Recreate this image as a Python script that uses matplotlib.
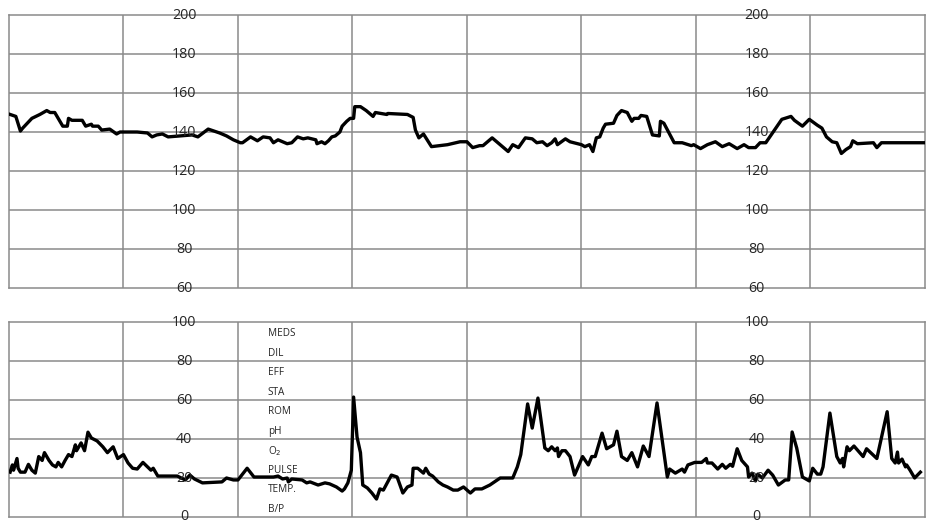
import numpy as np
import matplotlib
matplotlib.use("Agg")
import matplotlib.pyplot as plt

plt.rcParams['font.family'] = ['Open Sans', 'DejaVu Sans']

# fetal heart rate trace (minutes, bpm)
fhr_t = [0.01, 0.06, 0.10, 0.12, 0.20, 0.27, 0.33, 0.36, 0.40, 0.42, 0.47, 0.51, 0.52, 0.55,
         0.64, 0.67, 0.72, 0.73, 0.78, 0.81, 0.88, 0.94, 0.97, 1.12, 1.21, 1.25, 1.29, 1.34,
         1.39, 1.49, 1.60, 1.65, 1.74, 1.84, 1.90, 1.96, 2.02, 2.04, 2.11, 2.17, 2.22, 2.28,
         2.31, 2.35, 2.43, 2.47, 2.52, 2.57, 2.61, 2.68, 2.69, 2.73, 2.76, 2.79, 2.82, 2.85,
         2.89, 2.91, 2.95, 2.98, 3.01, 3.02, 3.07, 3.12, 3.18, 3.20, 3.30, 3.31, 3.48, 3.53,
         3.55, 3.58, 3.62, 3.69, 3.83, 3.94, 4.00, 4.05, 4.11, 4.14, 4.22, 4.29, 4.36, 4.40,
         4.45, 4.51, 4.57, 4.61, 4.66, 4.70, 4.74, 4.77, 4.79, 4.86, 4.90, 5.00, 5.03, 5.07,
         5.10, 5.13, 5.16, 5.19, 5.21, 5.28, 5.31, 5.35, 5.40, 5.44, 5.46, 5.50, 5.52, 5.57,
         5.62, 5.68, 5.69, 5.72, 5.81, 5.88, 5.96, 5.98, 6.04, 6.10, 6.17, 6.23, 6.29, 6.36,
         6.42, 6.46, 6.52, 6.56, 6.61, 6.75, 6.83, 6.86, 6.93, 6.99, 7.06, 7.10, 7.14, 7.19,
         7.23, 7.27, 7.31, 7.35, 7.37, 7.41, 7.55, 7.58, 7.62, 7.99]
fhr_v = [149, 148, 140.5, 142, 147, 149, 151, 150, 150, 148, 143, 143, 147, 146,
         146, 143, 144, 143, 143, 141, 141.5, 139, 140, 140, 139.5, 137.5, 138.5, 139,
         137.5, 138, 138.5, 137.5, 141.5, 139.5, 138, 136, 134.5, 134.5, 137.5, 135.5, 137.5, 137,
         134.5, 136, 134, 134.5, 137.5, 136.5, 137, 136, 134, 135, 134, 135.5, 137.5, 138,
         140, 143, 145.5, 147, 147, 153, 153, 151, 148, 150, 149, 149.5, 149, 147.5,
         141, 137, 139, 132.5, 133.5, 135, 135, 132, 133, 133, 137, 133.5, 130, 133.5,
         132, 137, 136.5, 134.5, 135, 133, 134.5, 136.5, 133.5, 136.5, 135, 133.5, 132.5, 133.5,
         130, 137, 137.5, 142, 144, 144.5, 148.5, 151, 150, 145.5, 147, 147, 148.5, 148,
         138.5, 138, 145.5, 144.5, 134.5, 134.5, 133, 133.5, 131.5, 133.5, 135, 132.5, 134, 131.5,
         133.5, 132, 132, 134.5, 134.5, 146.5, 148, 146, 143, 146.5, 143.5, 142, 137.5, 135,
         134.5, 129, 131, 132.5, 135.5, 134, 134.5, 132, 134.5, 134.5]

# uterine activity trace (minutes, mmHg)
ua_t = [0.01, 0.03, 0.04, 0.07, 0.08, 0.10, 0.14, 0.17, 0.20, 0.23, 0.26, 0.29, 0.31, 0.35,
        0.38, 0.41, 0.43, 0.46, 0.49, 0.52, 0.55, 0.58, 0.59, 0.63, 0.66, 0.69, 0.72, 0.77,
        0.82, 0.86, 0.91, 0.95, 1.00, 1.04, 1.08, 1.12, 1.17, 1.21, 1.24, 1.26, 1.30, 1.47,
        1.54, 1.58, 1.62, 1.69, 1.86, 1.90, 1.96, 2.00, 2.08, 2.14, 2.31, 2.35, 2.39, 2.43,
        2.44, 2.47, 2.56, 2.60, 2.63, 2.70, 2.76, 2.80, 2.86, 2.91, 2.93, 2.96, 2.99, 3.01,
        3.04, 3.07, 3.09, 3.13, 3.17, 3.21, 3.24, 3.27, 3.34, 3.39, 3.44, 3.48, 3.52, 3.53,
        3.57, 3.62, 3.64, 3.67, 3.70, 3.75, 3.79, 3.83, 3.88, 3.92, 3.97, 4.03, 4.07, 4.13,
        4.20, 4.29, 4.40, 4.44, 4.47, 4.53, 4.57, 4.62, 4.68, 4.71, 4.74, 4.77, 4.79, 4.80,
        4.83, 4.86, 4.90, 4.94, 5.01, 5.06, 5.09, 5.12, 5.18, 5.22, 5.28, 5.31, 5.35, 5.40,
        5.44, 5.49, 5.54, 5.59, 5.66, 5.75, 5.77, 5.82, 5.88, 5.90, 5.93, 5.99, 6.05, 6.09,
        6.10, 6.14, 6.19, 6.23, 6.26, 6.30, 6.32, 6.36, 6.40, 6.45, 6.46, 6.49, 6.52, 6.54,
        6.58, 6.63, 6.67, 6.72, 6.78, 6.81, 6.84, 6.88, 6.93, 6.99, 7.02, 7.06, 7.09, 7.11,
        7.17, 7.23, 7.26, 7.28, 7.29, 7.32, 7.34, 7.38, 7.46, 7.49, 7.58, 7.67, 7.71, 7.74,
        7.76, 7.77, 7.80, 7.83, 7.84, 7.87, 7.91, 7.96]
ua_v = [23, 26.7, 24, 30, 25, 23, 23, 27, 24, 22.5, 31, 29, 33, 29,
        26.7, 25.7, 28, 25.7, 29, 32, 31, 37, 34, 38, 34, 43.5, 40.5, 39,
        36, 33, 36, 30, 32, 27.7, 25, 24.6, 28, 25.7, 24, 25, 21, 21,
        19, 21.5, 19.5, 17.5, 18, 20, 19, 19, 25, 20.5, 20.5, 21, 19.5, 20,
        18, 19.5, 19, 17.5, 18, 16.4, 17.5, 17, 15.4, 13.3, 14.4, 17.5, 24, 61.5,
        41, 33, 16.4, 14.9, 12.3, 9.2, 14.4, 13.8, 21.5, 20.5, 12.3, 15.4, 16.4, 25,
        25, 22.5, 25, 22, 21, 18, 16.4, 15.4, 13.8, 13.8, 15.4, 12.3, 14.4, 14.4,
        16.4, 20, 20, 25.7, 32, 58, 45.6, 61, 35.4, 34, 36, 34, 35.4, 31,
        34, 34, 31, 21.5, 31, 26.7, 31, 31, 43, 35, 37, 44, 31, 29,
        33, 25.7, 36.4, 31, 58.5, 20.5, 24.6, 22.5, 24.6, 23, 26.7, 28, 28, 30,
        27.7, 27.7, 24.6, 27, 25, 27, 26, 35, 29, 25.7, 20.5, 22.5, 18.5, 22,
        20, 24, 21.5, 16.4, 19, 19, 43.6, 35.4, 20.5, 18.5, 25, 22, 22, 25.7,
        53.3, 31, 27.7, 30, 25.7, 36, 34, 36.4, 31, 35, 30, 54, 30, 27.7,
        33.3, 27.7, 29.7, 25.7, 26.7, 24, 20, 23]

fhr_ticks = [60, 80, 100, 120, 140, 160, 180, 200]
ua_ticks = [0, 20, 40, 60, 80, 100]
note_labels = ['MEDS', 'DIL', 'EFF', 'STA', 'ROM', 'pH', 'O$_2$', 'PULSE', 'TEMP.', 'B/P']
note_y = [94, 84, 74, 64, 54, 44, 34, 24, 14, 4]
label_cols = [1.53, 6.53]
minutes = 8

grid_col = '#8a8a8a'
text_col = '#262626'


def style_panel(ax, ticks):
	ax.set_xlim(0, minutes)
	ax.set_ylim(ticks[0], ticks[-1])
	for y in ticks[1:-1]:
		ax.axhline(y, color=grid_col, linewidth=1.1, zorder=1)
	for x in range(1, minutes):
		ax.axvline(x, color=grid_col, linewidth=1.1, zorder=1)
	for s in ax.spines.values():
		s.set_color(grid_col)
		s.set_linewidth(1.1)
	ax.set_xticks([])
	ax.set_yticks([])
	for c in label_cols:
		for y in ticks:
			ax.text(c, y, str(y), ha='center', va='center', fontsize=10.3,
					color=text_col, zorder=4, clip_on=False)


def main():
	fig = plt.figure(figsize=(9.34, 5.32), dpi=100)
	ax1 = fig.add_axes([0.0096, 0.4586, 0.9807, 0.5132])
	ax2 = fig.add_axes([0.0096, 0.0282, 0.9807, 0.3665])

	style_panel(ax1, fhr_ticks)
	style_panel(ax2, ua_ticks)

	ax1.plot(fhr_t, fhr_v, color='black', linewidth=2.4, zorder=3)
	ax2.plot(ua_t, ua_v, color='black', linewidth=2.4, zorder=3)

	for lab, y in zip(note_labels, note_y):
		ax2.text(2.26, y, lab, ha='left', va='center', fontsize=7.2, color=text_col, zorder=4)

	fig.savefig("out.png", dpi=100, facecolor='white')


if __name__ == "__main__":
	main()
